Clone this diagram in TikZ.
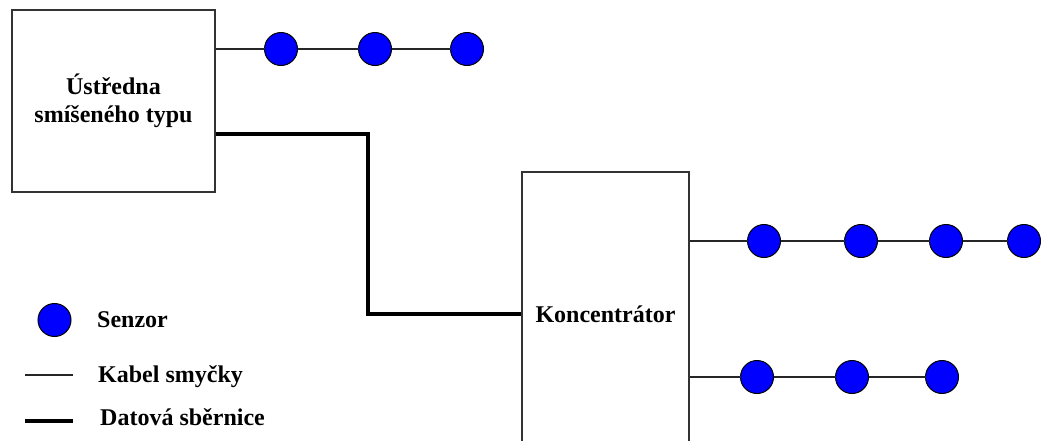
\documentclass[tikz,border=0pt]{standalone}
\usepackage{fontspec}
\setmainfont{Liberation Serif}
\usetikzlibrary{positioning}

\begin{document}
\begin{tikzpicture}[
  x=1pt, y=-1pt,
  box/.style={draw=black!80, line width=1.3pt, align=center, inner sep=0pt,
              font=\fontsize{24}{28}\selectfont\bfseries},
  senzor/.style={circle, draw=black, line width=1pt, fill=blue,
                 minimum size=33pt, inner sep=0pt, outer sep=0pt},
  kabel/.style={draw=black!85, line width=1.4pt},
  sbernice/.style={draw=black, line width=4pt},
  lab/.style={anchor=west, inner sep=0pt, font=\fontsize{24}{28}\selectfont\bfseries}
]
\useasboundingbox (0,0) rectangle (1042,440);
\clip (0,0) rectangle (1042,440);

\node[box, minimum width=203pt, minimum height=182pt] (ustr) at (113.5,101)
  {Ústředna\\smíšeného typu};
\node[box, minimum width=167pt, minimum height=284pt] (konc) at (605.5,314)
  {Koncentrátor};

% sensor chains
\node[senzor] (s11) at (281,49) {};
\node[senzor, right=61pt of s11] (s12) {};
\node[senzor, right=59pt of s12] (s13) {};

\node[senzor] (s21) at (764,241) {};
\node[senzor, right=64pt of s21] (s22) {};
\node[senzor, right=52pt of s22] (s23) {};
\node[senzor, right=45pt of s23] (s24) {};

\node[senzor] (s31) at (757,377) {};
\node[senzor, right=62pt of s31] (s32) {};
\node[senzor, right=57pt of s32] (s33) {};

\draw[kabel] (ustr.east |- s11) -- (s11) -- (s12) -- (s13);
\draw[kabel] (konc.east |- s21) -- (s21) -- (s22) -- (s23) -- (s24);
\draw[kabel] (konc.east |- s31) -- (s31) -- (s32) -- (s33);

% data bus
\path (ustr.east) ++(0,33) coordinate (busA);
\coordinate (ohyb) at (368,134);
\draw[sbernice] (busA) -- (ohyb) |- (konc.west);

% legend
\node[senzor] (lgS) at (54.5,320) {};
\node[lab, right=26pt of lgS] (lgSt) {Senzor};
\coordinate (lgK1) at (25,375);
\coordinate (lgK2) at (73,375);
\draw[kabel] (lgK1) -- (lgK2);
\node[lab] (lgKt) at (98,377) {Kabel smyčky};
\coordinate (lgD1) at (25,421);
\coordinate (lgD2) at (73,421);
\draw[sbernice] (lgD1) -- (lgD2);
\node[lab] (lgDt) at (100,417) {Datová sběrnice};

\end{tikzpicture}
\end{document}
